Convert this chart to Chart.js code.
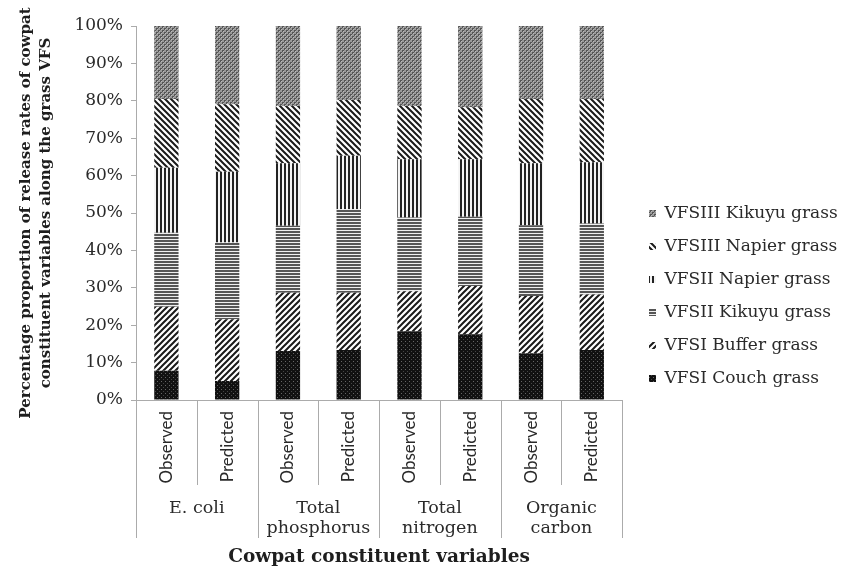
<!DOCTYPE html>
<html>
<head>
<meta charset="utf-8">
<script src="https://cdn.jsdelivr.net/npm/chart.js@4/dist/chart.umd.min.js"></script>
<style>
  html, body { margin: 0; padding: 0; background: #fff; }
  #wrap { width: 845px; height: 574px; position: relative; }
</style>
</head>
<body>
<div id="wrap"><canvas id="c" width="845" height="574"></canvas></div>
<script>
// ---- Data ----
const subLabels = ['Observed', 'Predicted', 'Observed', 'Predicted', 'Observed', 'Predicted', 'Observed', 'Predicted'];
const groupLabels = [['E. coli'], ['Total', 'phosphorus'], ['Total', 'nitrogen'], ['Organic', 'carbon']];
const seriesNames = ['VFSI Couch grass', 'VFSI Buffer grass', 'VFSII Kikuyu grass', 'VFSII Napier grass', 'VFSIII Napier grass', 'VFSIII Kikuyu grass'];
const couchGrass   = [7.8, 5.1, 13.1, 13.4, 18.4, 17.6, 12.5, 13.4];
const bufferGrass  = [17.1, 16.5, 15.6, 15.3, 10.7, 12.9, 15.3, 14.8];
const kikuyuII     = [19.8, 20.5, 17.9, 22.3, 19.7, 18.5, 18.9, 19.0];
const napierII     = [17.4, 18.9, 16.7, 14.3, 15.6, 15.4, 16.6, 16.4];
const napierIII    = [18.4, 18.1, 15.3, 14.9, 14.2, 13.9, 17.2, 16.9];
const kikuyuIII    = [19.5, 20.9, 21.4, 19.8, 21.4, 21.7, 19.5, 19.5];
const yTicks = [0, 10, 20, 30, 40, 50, 60, 70, 80, 90, 100];

// ---- Patterns ----
function mk(w, h, draw) {
  const c = document.createElement('canvas');
  c.width = w; c.height = h;
  const g = c.getContext('2d');
  draw(g, w, h);
  return document.getElementById('c').getContext('2d').createPattern(c, 'repeat');
}
const patCouch = mk(4, 4, (g) => {
  g.fillStyle = '#111'; g.fillRect(0, 0, 4, 4);
  g.fillStyle = '#666'; g.fillRect(1, 1, 1, 1);
  g.fillStyle = '#444'; g.fillRect(3, 3, 1, 1);
});
function diag(forward, p, lw, col) {
  return mk(p, p, (g, w, h) => {
    g.fillStyle = '#fff'; g.fillRect(0, 0, w, h);
    g.strokeStyle = col; g.lineWidth = lw; g.lineCap = 'square';
    g.beginPath();
    for (let k = -1; k <= 1; k++) {
      if (forward) { g.moveTo(k * p - 1, p + 1); g.lineTo(k * p + p + 1, -1); }
      else { g.moveTo(k * p - 1, -1); g.lineTo(k * p + p + 1, p + 1); }
    }
    g.stroke();
  });
}
const patBuffer = diag(true, 6, 2, '#1a1a1a');
const patNapier3 = diag(false, 6, 2, '#1a1a1a');
const patKikuyu2 = mk(3, 3, (g) => {
  g.fillStyle = '#eee'; g.fillRect(0, 0, 3, 3);
  g.fillStyle = '#555'; g.fillRect(0, 0, 3, 2);
});
const patNapier2 = mk(4, 4, (g) => {
  g.fillStyle = '#f4f4f4'; g.fillRect(0, 0, 4, 4);
  g.fillStyle = '#222'; g.fillRect(0, 0, 2, 4);
});
const patKikuyu3 = mk(4, 4, (g) => {
  g.fillStyle = '#999'; g.fillRect(0, 0, 4, 4);
  g.fillStyle = '#555'; g.fillRect(0, 0, 2, 2); g.fillRect(2, 2, 2, 2);
  g.fillStyle = '#bbb'; g.fillRect(1, 1, 1, 1); g.fillRect(3, 3, 1, 1);
});

const seriesValues = [couchGrass, bufferGrass, kikuyuII, napierII, napierIII, kikuyuIII];
const patterns = [patCouch, patBuffer, patKikuyu2, patNapier2, patNapier3, patKikuyu3];

const datasets = seriesNames.map((n, i) => ({
  label: n,
  data: seriesValues[i],
  backgroundColor: patterns[i],
  borderWidth: 0,
  barPercentage: 0.4,
  categoryPercentage: 1.0
}));

const AXIS = '#ababab';
const TXT = '#2a2a2a';
const serif = "'DejaVu Serif', serif";
const PLOT_RIGHT = 622;
const LEGEND_X = 649;
const LEGEND_DY = -4;

// shift legend so it sits a little right of the plot (as in the reference)
const legendShift = {
  id: 'legendShift',
  afterLayout(chart) {
    const lg = chart.legend;
    if (!lg) return;
    const pad = lg.options.labels.padding;
    const dx = LEGEND_X - (lg.left + pad);
    lg.left += dx; lg.right += dx;
    lg.top += LEGEND_DY; lg.bottom += LEGEND_DY;
  }
};

const groupPlugin = {
  id: 'groupAxis',
  afterDraw(chart) {
    const x = chart.scales.x;
    const ca = chart.chartArea;
    const ctx = chart.ctx;
    const n = subLabels.length;
    ctx.save();
    ctx.strokeStyle = AXIS;
    ctx.lineWidth = 1;
    for (let i = 0; i <= n; i++) {
      let px;
      if (i === 0) px = ca.left;
      else if (i === n) px = ca.right;
      else px = (x.getPixelForValue(i - 1) + x.getPixelForValue(i)) / 2;
      px = Math.round(px) + 0.5;
      const len = (i % 2 === 0) ? 138 : 85;
      ctx.beginPath();
      ctx.moveTo(px, ca.bottom);
      ctx.lineTo(px, ca.bottom + len);
      ctx.stroke();
    }
    ctx.fillStyle = TXT;
    ctx.font = "17.5px " + serif;
    ctx.textAlign = 'center';
    ctx.textBaseline = 'middle';
    groupLabels.forEach((lines, g) => {
      const cx = (x.getPixelForValue(2 * g) + x.getPixelForValue(2 * g + 1)) / 2;
      lines.forEach((t, k) => {
        ctx.fillText(t, cx, ca.bottom + 108 + k * 20);
      });
    });
    ctx.restore();
  }
};

new Chart(document.getElementById('c'), {
  type: 'bar',
  data: { labels: subLabels, datasets },
  plugins: [groupPlugin, legendShift],
  options: {
    responsive: false,
    animation: false,
    layout: { padding: { top: 26, right: 0, left: 0, bottom: 0 } },
    plugins: {
      tooltip: { enabled: false },
      legend: {
        position: 'right',
        reverse: true,
        labels: {
          boxWidth: 7,
          boxHeight: 7,
          padding: 16,
          color: TXT,
          font: { family: serif, size: 17 }
        }
      }
    },
    scales: {
      x: {
        stacked: true,
        grid: { display: false, drawTicks: false },
        border: { display: true, color: AXIS, width: 1 },
        ticks: {
          color: TXT,
          font: { family: 'Lato', size: 17 },
          minRotation: 90,
          maxRotation: 90,
          padding: 11,
          autoSkip: false
        },
        title: {
          display: true,
          text: 'Cowpat constituent variables',
          color: '#1e1e1e',
          font: { family: serif, size: 18.5, weight: 'bold' },
          padding: { top: 4, bottom: 6 }
        },
        afterFit(s) { s.height = 174; }
      },
      y: {
        stacked: true,
        min: 0,
        max: 100,
        afterBuildTicks(s) { s.ticks = yTicks.map(v => ({ value: v })); },
        grid: { drawOnChartArea: false, drawTicks: true, tickLength: 5, color: AXIS },
        border: { display: true, color: AXIS, width: 1 },
        ticks: {
          color: TXT,
          font: { family: serif, size: 17 },
          padding: 8,
          callback: (v) => v + '%'
        },
        title: {
          display: true,
          text: ['Percentage proportion of release rates of cowpat', 'constituent variables along the grass VFS'],
          color: '#1e1e1e',
          font: { family: serif, size: 15, weight: 'bold', lineHeight: 1.35 },
          padding: { top: 16, bottom: 0 }
        },
        afterFit(s) { s.width = 136; }
      }
    }
  }
});

// keep the plot's right edge where the reference has it
(function fixRight() {
  const ch = Chart.getChart('c');
  for (let k = 0; k < 3; k++) {
    const diff = ch.chartArea.right - PLOT_RIGHT;
    if (Math.abs(diff) <= 0.5) break;
    ch.options.layout.padding.right = (ch.options.layout.padding.right || 0) + diff;
    ch.update('none');
  }
})();
</script>
</body>
</html>
